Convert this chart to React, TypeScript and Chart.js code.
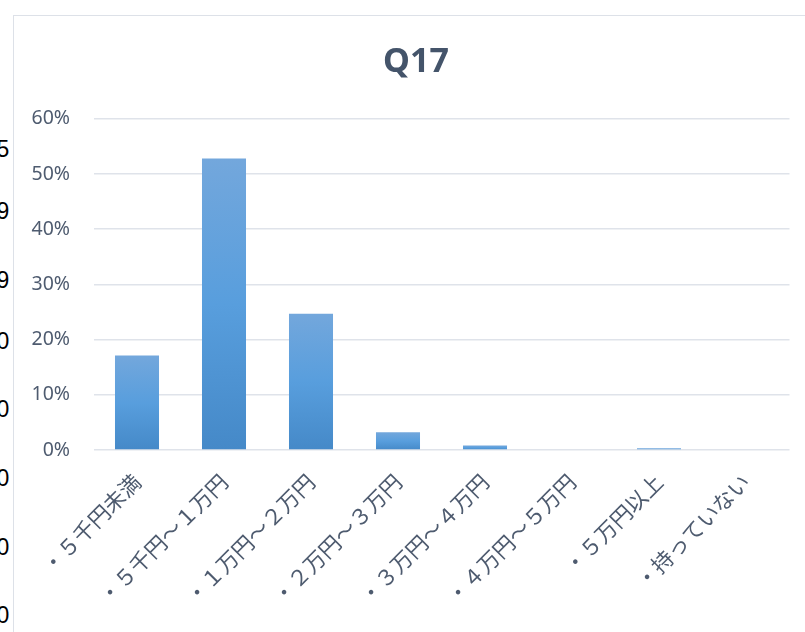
import React, { useEffect, useRef } from "react";
import { Chart, registerables } from "chart.js";

Chart.register(...registerables);

const categories = [
  "・５千円未満",
  "・５千円～１万円",
  "・１万円～２万円",
  "・２万円～３万円",
  "・３万円～４万円",
  "・４万円～５万円",
  "・５万円以上",
  "・持っていない",
];
const shares = [0.171, 0.528, 0.247, 0.032, 0.008, 0, 0.003, 0];
const yTickValues = [0, 0.1, 0.2, 0.3, 0.4, 0.5, 0.6];
const chartTitle = "Q17";
const leftDigits = ["5", "9", "9", "0", "0", "0", "0", "0"];
const leftDigitTops = [137, 199, 268, 329, 397, 466, 535, 603];

export default function App() {
  const ref = useRef<HTMLCanvasElement | null>(null);

  useEffect(() => {
    if (!ref.current) return;
    const chart = new Chart(ref.current, {
      type: "bar",
      data: {
        labels: categories,
        datasets: [
          {
            data: shares,
            barPercentage: 0.506,
            categoryPercentage: 1,
            backgroundColor: (c: any) => {
              const ch = c.chart;
              const { ctx, chartArea, scales } = ch;
              if (!chartArea || c.type !== "data" || !scales.y) return "#5b9bd5";
              const top = scales.y.getPixelForValue(c.raw);
              const bottom = scales.y.getPixelForValue(0);
              if (bottom - top < 1) return "#5b9bd5";
              const g = ctx.createLinearGradient(0, top, 0, bottom);
              g.addColorStop(0, "#73a7dc");
              g.addColorStop(0.5, "#589edd");
              g.addColorStop(1, "#4589c8");
              return g;
            },
          },
        ],
      },
      options: {
        responsive: false,
        animation: false,
        devicePixelRatio: 1,
        layout: { padding: { left: 42.5, right: 15.5, top: 0, bottom: 0 } },
        plugins: {
          legend: { display: false },
          tooltip: { enabled: false },
          title: {
            display: true,
            text: chartTitle,
            color: "#44546a",
            font: { family: "'Noto Sans', sans-serif", size: 34, weight: "bold" },
            padding: { top: 42, bottom: 36 },
          },
        },
        scales: {
          y: {
            min: 0,
            max: 0.6,
            afterFit: (s: any) => {
              s.width = 51;
              // let the tick labels extend past the axis box without clipping
              s._computeLabelArea = () => undefined;
            },
            afterBuildTicks: (s: any) => {
              s.ticks = yTickValues.map((v) => ({ value: v }));
            },
            ticks: {
              callback: (v: any) => Math.round(Number(v) * 100) + "%",
              color: "#4e5b6f",
              font: { family: "'Noto Sans', sans-serif", size: 19.5 },
              padding: 23.5,
            },
            grid: { color: "#dfe3ea", lineWidth: 1.5, drawTicks: false },
            border: { display: false },
          },
          x: {
            afterFit: (s: any) => {
              s.height = 182;
            },
            grid: { display: false, drawTicks: false },
            border: { display: false },
            ticks: {
              autoSkip: false,
              maxRotation: 45,
              minRotation: 45,
              color: "#4e5b6f",
              font: { family: "'Noto Sans CJK JP', sans-serif", size: 21.5 },
              padding: 19,
            },
          },
        },
      },
    });
    return () => chart.destroy();
  }, []);

  return (
    <div
      style={{
        position: "absolute",
        left: 0,
        top: 0,
        width: 805,
        height: 632,
        overflow: "hidden",
        background: "#fff",
      }}
    >
      <div
        style={{
          position: "absolute",
          left: 0,
          top: 0,
          width: 10,
          height: 632,
          overflow: "hidden",
        }}
      >
        {leftDigits.map((d, i) => (
          <span
            key={i}
            style={{
              position: "absolute",
              left: -3.5,
              top: leftDigitTops[i],
              fontFamily: "'Liberation Sans', Arial, sans-serif",
              fontSize: 23,
              lineHeight: "24px",
              color: "#000",
            }}
          >
            {d}
          </span>
        ))}
      </div>
      <div
        style={{
          position: "absolute",
          left: 13,
          top: 15,
          width: 800,
          height: 640,
          borderLeft: "1.5px solid #dde1e8",
          borderTop: "1.5px solid #dde1e8",
        }}
      />
      <canvas
        ref={ref}
        width={805}
        height={632}
        style={{ position: "absolute", left: 0, top: 0, width: 805, height: 632 }}
      />
    </div>
  );
}
